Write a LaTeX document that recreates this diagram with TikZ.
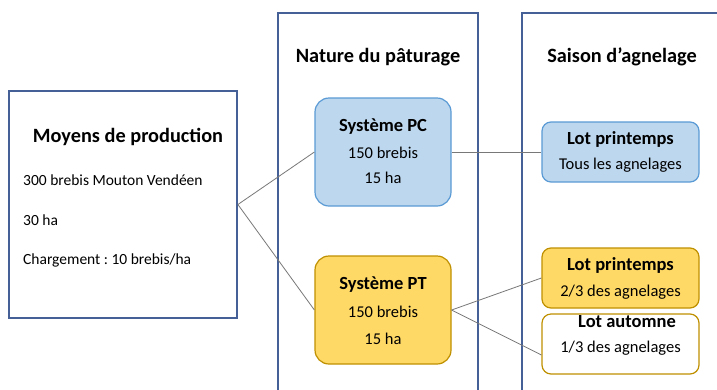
\documentclass[tikz,border=0pt]{standalone}
\usepackage{fontspec}
\setmainfont{Carlito}
\usepackage{xcolor}
\definecolor{cadre}{RGB}{68,96,150}
\definecolor{bleufond}{RGB}{189,215,238}
\definecolor{bleutrait}{RGB}{91,155,213}
\definecolor{jaunefond}{RGB}{255,217,102}
\definecolor{jaunetrait}{RGB}{191,144,0}
\definecolor{lien}{RGB}{120,120,120}
\tikzset{
  cadrebox/.style={draw=cadre,line width=1.8pt},
  systbox/.style={rounded corners=14pt,line width=1.2pt,minimum width=136pt,minimum height=108pt,inner sep=0pt},
  lotbox/.style={rounded corners=9pt,line width=1.2pt,minimum width=157pt,minimum height=60pt,inner sep=0pt},
  titre/.style={font=\fontsize{20.3}{24}\selectfont\bfseries},
  soustitre/.style={font=\fontsize{18.5}{22}\selectfont\bfseries,inner sep=0pt},
  texte/.style={font=\fontsize{16.5}{20}\selectfont,inner sep=0pt},
  petit/.style={font=\fontsize{15.5}{19}\selectfont,inner sep=0pt,anchor=west}
}
\begin{document}
\begin{tikzpicture}[x=1pt,y=-1pt]
  \clip (0,0) rectangle (717,389);
  \fill[white] (0,0) rectangle (717,389);
  \draw[cadrebox] (278,13) rectangle (478,420);
  \draw[cadrebox] (522,13) rectangle (760,420);
  \node[cadrebox,minimum width=228pt,minimum height=227pt,inner sep=0pt] (moyens) at (123,204.5) {};
  \node[titre] (tmoyens) at (128,137) {Moyens de production};
  \node[petit] (brebis) at (23,180) {300 brebis Mouton Vendéen};
  \node[petit] (surface) at (23,220) {30 ha};
  \node[petit] (charge) at (23,260) {Chargement~:~10 brebis/ha};
  \node[titre] (tnature) at (378,57) {Nature du pâturage};
  \node[titre] (tsaison) at (622,57) {Saison d’agnelage};

  \node[systbox,draw=bleutrait,fill=bleufond] (pc) at (383,152) {};
  \node[soustitre] (pc1) at (383,127) {Système PC};
  \node[texte] (pc2) at (383,153) {150 brebis};
  \node[texte] (pc3) at (383,178) {15 ha};

  \node[systbox,draw=jaunetrait,fill=jaunefond] (pt) at (383,310) {};
  \node[soustitre] (pt1) at (383,285) {Système PT};
  \node[texte] (pt2) at (383,312) {150 brebis};
  \node[texte] (pt3) at (383,339) {15 ha};

  \node[lotbox,draw=bleutrait,fill=bleufond] (lotpc) at (620.5,152) {};
  \node[soustitre] (lotpc1) at (620.5,139) {Lot printemps};
  \node[texte] (lotpc2) at (620.5,165) {Tous les agnelages};

  \node[lotbox,draw=jaunetrait,fill=jaunefond] (lotpt) at (620.5,278) {};
  \node[soustitre] (lotpt1) at (620.5,265) {Lot printemps};
  \node[texte] (lotpt2) at (620.5,292) {2/3 des agnelages};

  \node[lotbox,draw=jaunetrait,fill=white] (lotaut) at (620.5,344) {};
  \node[soustitre] (lotaut1) at (627,322) {Lot automne};
  \node[texte] (lotaut2) at (620.5,348) {1/3 des agnelages};

  \draw[draw=lien,line width=0.8pt] (moyens.east) -- (pc.west);
  \draw[draw=lien,line width=0.8pt] (moyens.east) -- (pt.west);
  \draw[draw=lien,line width=0.8pt] (pc.east) -- (lotpc.west);
  \draw[draw=lien,line width=0.8pt] (pt.east) -- (lotpt.west);
  \draw[draw=lien,line width=0.8pt] (pt.east) -- ([yshift=-11pt]lotaut.west);
\end{tikzpicture}
\end{document}
